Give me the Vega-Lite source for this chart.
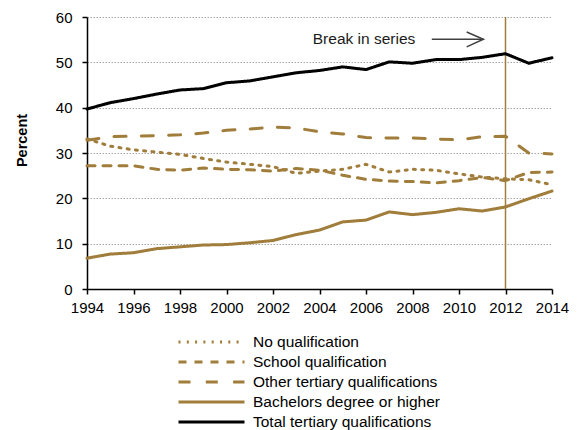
{
  "$schema": "https://vega.github.io/schema/vega-lite/v6.json",
  "width": 465,
  "height": 272,
  "autosize": "none",
  "padding": {"left": 87, "top": 17, "right": 31, "bottom": 141},
  "background": "white",
  "config": {
    "font": "Liberation Sans",
    "view": {"stroke": null},
    "axis": {
      "labelFont": "Liberation Sans",
      "labelFontSize": 15,
      "labelColor": "black",
      "domainColor": "black",
      "domainWidth": 1.5,
      "tickColor": "black",
      "tickWidth": 1.5,
      "tickSize": 5
    }
  },
  "datasets": {
    "series": [
      {"year": 1994, "series": "No qualification", "value": 33.1},
      {"year": 1995, "series": "No qualification", "value": 31.5},
      {"year": 1996, "series": "No qualification", "value": 30.7},
      {"year": 1997, "series": "No qualification", "value": 30.2},
      {"year": 1998, "series": "No qualification", "value": 29.7},
      {"year": 1999, "series": "No qualification", "value": 28.8},
      {"year": 2000, "series": "No qualification", "value": 28.0},
      {"year": 2001, "series": "No qualification", "value": 27.5},
      {"year": 2002, "series": "No qualification", "value": 27.0},
      {"year": 2003, "series": "No qualification", "value": 25.5},
      {"year": 2004, "series": "No qualification", "value": 26.0},
      {"year": 2005, "series": "No qualification", "value": 26.4},
      {"year": 2006, "series": "No qualification", "value": 27.5},
      {"year": 2007, "series": "No qualification", "value": 25.8},
      {"year": 2008, "series": "No qualification", "value": 26.4},
      {"year": 2009, "series": "No qualification", "value": 26.2},
      {"year": 2010, "series": "No qualification", "value": 25.4},
      {"year": 2011, "series": "No qualification", "value": 24.7},
      {"year": 2012, "series": "No qualification", "value": 24.3},
      {"year": 2013, "series": "No qualification", "value": 24.1},
      {"year": 2014, "series": "No qualification", "value": 23.0},
      {"year": 1994, "series": "School qualification", "value": 27.2},
      {"year": 1995, "series": "School qualification", "value": 27.2},
      {"year": 1996, "series": "School qualification", "value": 27.2},
      {"year": 1997, "series": "School qualification", "value": 26.4},
      {"year": 1998, "series": "School qualification", "value": 26.2},
      {"year": 1999, "series": "School qualification", "value": 26.7},
      {"year": 2000, "series": "School qualification", "value": 26.4},
      {"year": 2001, "series": "School qualification", "value": 26.3},
      {"year": 2002, "series": "School qualification", "value": 26.0},
      {"year": 2003, "series": "School qualification", "value": 26.6},
      {"year": 2004, "series": "School qualification", "value": 26.2},
      {"year": 2005, "series": "School qualification", "value": 25.1},
      {"year": 2006, "series": "School qualification", "value": 24.2},
      {"year": 2007, "series": "School qualification", "value": 23.8},
      {"year": 2008, "series": "School qualification", "value": 23.7},
      {"year": 2009, "series": "School qualification", "value": 23.4},
      {"year": 2010, "series": "School qualification", "value": 23.9},
      {"year": 2011, "series": "School qualification", "value": 24.6},
      {"year": 2012, "series": "School qualification", "value": 23.9},
      {"year": 2013, "series": "School qualification", "value": 25.7},
      {"year": 2014, "series": "School qualification", "value": 25.8},
      {"year": 1994, "series": "Other tertiary qualifications", "value": 32.8},
      {"year": 1995, "series": "Other tertiary qualifications", "value": 33.6},
      {"year": 1996, "series": "Other tertiary qualifications", "value": 33.7},
      {"year": 1997, "series": "Other tertiary qualifications", "value": 33.8},
      {"year": 1998, "series": "Other tertiary qualifications", "value": 34.0},
      {"year": 1999, "series": "Other tertiary qualifications", "value": 34.4},
      {"year": 2000, "series": "Other tertiary qualifications", "value": 35.0},
      {"year": 2001, "series": "Other tertiary qualifications", "value": 35.3},
      {"year": 2002, "series": "Other tertiary qualifications", "value": 35.7},
      {"year": 2003, "series": "Other tertiary qualifications", "value": 35.5},
      {"year": 2004, "series": "Other tertiary qualifications", "value": 34.7},
      {"year": 2005, "series": "Other tertiary qualifications", "value": 34.2},
      {"year": 2006, "series": "Other tertiary qualifications", "value": 33.4},
      {"year": 2007, "series": "Other tertiary qualifications", "value": 33.3},
      {"year": 2008, "series": "Other tertiary qualifications", "value": 33.3},
      {"year": 2009, "series": "Other tertiary qualifications", "value": 33.1},
      {"year": 2010, "series": "Other tertiary qualifications", "value": 32.9},
      {"year": 2011, "series": "Other tertiary qualifications", "value": 33.6},
      {"year": 2012, "series": "Other tertiary qualifications", "value": 33.7},
      {"year": 2013, "series": "Other tertiary qualifications", "value": 30.0},
      {"year": 2014, "series": "Other tertiary qualifications", "value": 29.8},
      {"year": 1994, "series": "Bachelors degree or higher", "value": 6.8},
      {"year": 1995, "series": "Bachelors degree or higher", "value": 7.7},
      {"year": 1996, "series": "Bachelors degree or higher", "value": 8.0},
      {"year": 1997, "series": "Bachelors degree or higher", "value": 8.9},
      {"year": 1998, "series": "Bachelors degree or higher", "value": 9.3},
      {"year": 1999, "series": "Bachelors degree or higher", "value": 9.7},
      {"year": 2000, "series": "Bachelors degree or higher", "value": 9.8},
      {"year": 2001, "series": "Bachelors degree or higher", "value": 10.2},
      {"year": 2002, "series": "Bachelors degree or higher", "value": 10.7},
      {"year": 2003, "series": "Bachelors degree or higher", "value": 12.0},
      {"year": 2004, "series": "Bachelors degree or higher", "value": 13.0},
      {"year": 2005, "series": "Bachelors degree or higher", "value": 14.8},
      {"year": 2006, "series": "Bachelors degree or higher", "value": 15.2},
      {"year": 2007, "series": "Bachelors degree or higher", "value": 17.0},
      {"year": 2008, "series": "Bachelors degree or higher", "value": 16.4},
      {"year": 2009, "series": "Bachelors degree or higher", "value": 16.9},
      {"year": 2010, "series": "Bachelors degree or higher", "value": 17.7},
      {"year": 2011, "series": "Bachelors degree or higher", "value": 17.2},
      {"year": 2012, "series": "Bachelors degree or higher", "value": 18.1},
      {"year": 2013, "series": "Bachelors degree or higher", "value": 19.9},
      {"year": 2014, "series": "Bachelors degree or higher", "value": 21.6},
      {"year": 1994, "series": "Total tertiary qualifications", "value": 39.7},
      {"year": 1995, "series": "Total tertiary qualifications", "value": 41.1},
      {"year": 1996, "series": "Total tertiary qualifications", "value": 42.0},
      {"year": 1997, "series": "Total tertiary qualifications", "value": 43.0},
      {"year": 1998, "series": "Total tertiary qualifications", "value": 43.9},
      {"year": 1999, "series": "Total tertiary qualifications", "value": 44.2},
      {"year": 2000, "series": "Total tertiary qualifications", "value": 45.5},
      {"year": 2001, "series": "Total tertiary qualifications", "value": 45.9},
      {"year": 2002, "series": "Total tertiary qualifications", "value": 46.8},
      {"year": 2003, "series": "Total tertiary qualifications", "value": 47.7},
      {"year": 2004, "series": "Total tertiary qualifications", "value": 48.2},
      {"year": 2005, "series": "Total tertiary qualifications", "value": 49.0},
      {"year": 2006, "series": "Total tertiary qualifications", "value": 48.4},
      {"year": 2007, "series": "Total tertiary qualifications", "value": 50.1},
      {"year": 2008, "series": "Total tertiary qualifications", "value": 49.8},
      {"year": 2009, "series": "Total tertiary qualifications", "value": 50.6},
      {"year": 2010, "series": "Total tertiary qualifications", "value": 50.6},
      {"year": 2011, "series": "Total tertiary qualifications", "value": 51.1},
      {"year": 2012, "series": "Total tertiary qualifications", "value": 51.9},
      {"year": 2013, "series": "Total tertiary qualifications", "value": 49.8},
      {"year": 2014, "series": "Total tertiary qualifications", "value": 51.0}
    ]
  },
  "layer": [
    {
      "data": {"values": [{"year": 2012}]},
      "mark": {"type": "rule", "color": "#a07d3b", "strokeWidth": 1.5},
      "encoding": {
        "x": {"field": "year", "type": "quantitative", "scale": {"domain": [1994, 2014], "nice": false, "zero": false}}
      }
    },
    {
      "data": {"name": "series"},
      "mark": {"type": "line", "strokeCap": "round", "strokeJoin": "round"},
      "encoding": {
        "x": {
          "field": "year", "type": "quantitative",
          "scale": {"domain": [1994, 2014], "nice": false, "zero": false},
          "axis": {
            "title": null,
            "values": [1994,1995,1996,1997,1998,1999,2000,2001,2002,2003,2004,2005,2006,2007,2008,2009,2010,2011,2012,2013,2014],
            "labelExpr": "datum.value % 2 == 0 ? datum.value + '' : ''",
            "labelPadding": 6,
            "labelFlush": false,
            "labelOverlap": false,
            "grid": false
          }
        },
        "y": {
          "field": "value", "type": "quantitative",
          "scale": {"domain": [0, 60], "nice": false},
          "axis": {
            "title": "Percent",
            "titleFont": "Liberation Sans",
            "titleFontSize": 14.5,
            "titleFontWeight": "bold",
            "titleColor": "black",
            "titleX": -65,
            "titleY": 123,
            "titleBaseline": "middle",
            "values": [0, 10, 20, 30, 40, 50, 60],
            "labelPadding": 10,
            "grid": true,
            "gridColor": "#a6a6a6",
            "gridDash": [1.5, 1.5],
            "gridWidth": 1
          }
        },
        "color": {
          "field": "series", "type": "nominal",
          "scale": {
            "domain": ["No qualification", "School qualification", "Other tertiary qualifications", "Bachelors degree or higher", "Total tertiary qualifications"],
            "range": ["#a07d3b", "#a07d3b", "#a07d3b", "#a07d3b", "#000000"]
          },
          "legend": {
            "title": null,
            "orient": "none",
            "legendX": 90,
            "legendY": 315,
            "symbolType": "stroke",
            "symbolSize": 4356,
            "symbolStrokeWidth": 3.5,
            "clipHeight": 20,
            "rowPadding": 0,
            "padding": 0,
            "labelOffset": 7,
            "labelFont": "Liberation Sans",
            "labelFontSize": 15.5,
            "labelColor": "black",
            "labelLimit": 400
          }
        },
        "strokeDash": {
          "field": "series", "type": "nominal",
          "scale": {
            "domain": ["No qualification", "School qualification", "Other tertiary qualifications", "Bachelors degree or higher", "Total tertiary qualifications"],
            "range": [[2, 6.3], [8, 8], [12, 15.3], [1, 0], [1, 0]]
          },
          "legend": {
            "title": null,
            "orient": "none",
            "legendX": 90,
            "legendY": 315,
            "symbolType": "stroke",
            "symbolSize": 4356,
            "symbolStrokeWidth": 3.5,
            "clipHeight": 20,
            "rowPadding": 0,
            "padding": 0,
            "labelOffset": 7,
            "labelFont": "Liberation Sans",
            "labelFontSize": 15.5,
            "labelColor": "black",
            "labelLimit": 400
          }
        },
        "strokeWidth": {
          "field": "series", "type": "nominal",
          "scale": {
            "domain": ["No qualification", "School qualification", "Other tertiary qualifications", "Bachelors degree or higher", "Total tertiary qualifications"],
            "range": [3, 3, 3, 3, 3.5]
          },
          "legend": null
        }
      }
    },
    {
      "data": {"values": [{"x": 2003.71, "y": 55.24, "label": "Break in series"}]},
      "mark": {"type": "text", "align": "left", "baseline": "middle", "fontSize": 15.5, "font": "Liberation Sans", "color": "#1a1a1a"},
      "encoding": {
        "x": {"field": "x", "type": "quantitative"},
        "y": {"field": "y", "type": "quantitative"},
        "text": {"field": "label"}
      }
    },
    {
      "data": {"values": [
        {"part": "shaft", "i": 0, "x": 2008.83, "y": 55.1},
        {"part": "shaft", "i": 1, "x": 2011.05, "y": 55.1},
        {"part": "head", "i": 0, "x": 2010.33, "y": 56.7},
        {"part": "head", "i": 1, "x": 2011.05, "y": 55.1},
        {"part": "head", "i": 2, "x": 2010.33, "y": 53.4}
      ]},
      "mark": {"type": "line", "color": "#404040", "strokeWidth": 1.5},
      "encoding": {
        "x": {"field": "x", "type": "quantitative"},
        "y": {"field": "y", "type": "quantitative"},
        "detail": {"field": "part"},
        "order": {"field": "i"}
      }
    }
  ]
}
